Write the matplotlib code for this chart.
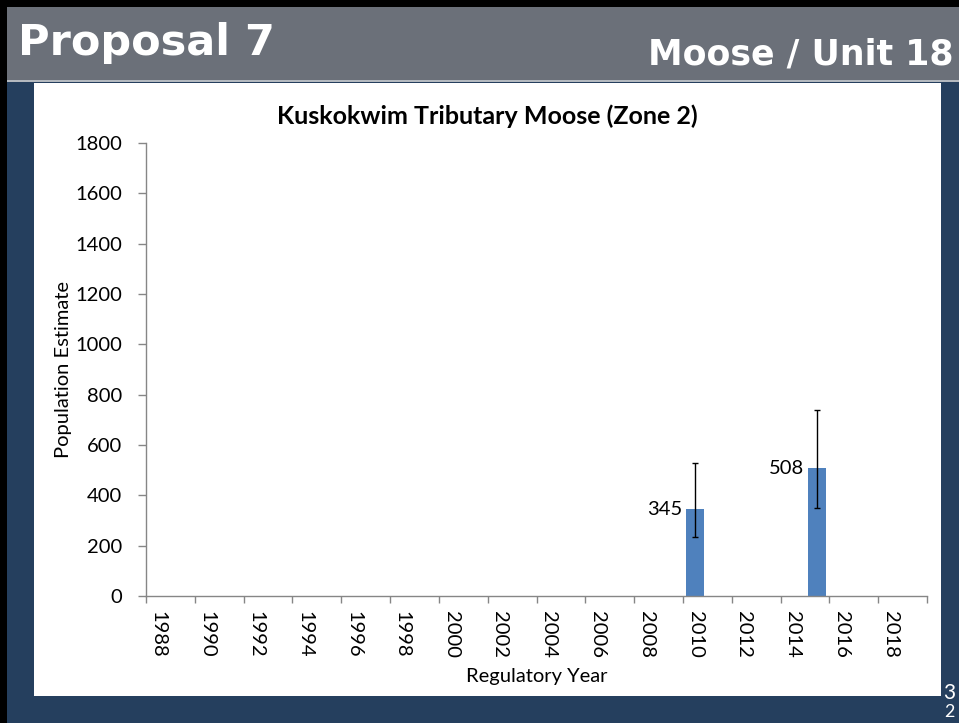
import matplotlib
matplotlib.use("Agg")
import matplotlib.pyplot as plt
from matplotlib.patches import Rectangle

# data
years = [2010, 2015]
estimates = [345, 508]
ci_low = [234, 351]
ci_high = [530, 739]
tick_years = list(range(1988, 2020, 2))

navy = "#253f5e"
gray = "#6b7079"
bar_col = "#4f81bd"
axis_col = "#868686"

W, H = 959, 723
fig = plt.figure(figsize=(W / 100, H / 100), dpi=100, facecolor=navy)

def px_rect(x0, y0, x1, y1, color):
    # rectangle in pixel coords from top-left
    r = Rectangle((x0 / W, 1 - y1 / H), (x1 - x0) / W, (y1 - y0) / H,
                  transform=fig.transFigure, facecolor=color, edgecolor="none", zorder=-5)
    fig.add_artist(r)

px_rect(0, 0, W, 7, "black")
px_rect(0, 0, 7, H, "black")
px_rect(7, 7, W, 80, gray)
px_rect(7, 80, W, 82, "#b4b9bf")
px_rect(34, 83, 941, 696, "white")

fig.text(18 / W, 1 - 55 / H, "Proposal 7", color="white", fontsize=31,
         fontweight="bold", family="DejaVu Sans", ha="left", va="baseline")
fig.text(953 / W, 1 - 65 / H, "Moose / Unit 18", color="white", fontsize=25,
         fontweight="bold", family="DejaVu Sans", ha="right", va="baseline")
fig.text(949 / W, 1 - 693 / H, "3", color="white", fontsize=15, family="Lato",
         ha="center", va="center")
fig.text(949 / W, 1 - 712 / H, "2", color="white", fontsize=13, family="Lato",
         ha="center", va="center")

ax = fig.add_axes([146 / W, 1 - 596 / H, (927 - 146) / W, (596 - 143) / H])
ax.set_facecolor("none")

xs = [y + 0.5 for y in years]
yerr = [[e - lo for e, lo in zip(estimates, ci_low)],
        [hi - e for e, hi in zip(estimates, ci_high)]]
ax.bar(xs, estimates, width=0.74, color=bar_col, zorder=2)
ax.errorbar(xs, estimates, yerr=yerr, fmt="none", ecolor="black",
            elinewidth=1, capsize=2.5, capthick=1, zorder=3)
for x, v in zip(xs, estimates):
    ax.annotate(str(v), (x - 0.37, v), xytext=(-3, 0), textcoords="offset points",
                ha="right", va="center", fontsize=14.5, family="Lato")

ax.set_xlim(1988, 2020)
ax.set_ylim(0, 1800)
ax.set_yticks(range(0, 1801, 200))
ax.set_xticks(tick_years + [2020])
ax.set_xticklabels([])
ax.set_xticks([y + 0.5 for y in tick_years], minor=True)
ax.set_xticklabels([str(y) for y in tick_years], minor=True, rotation=-90,
                   fontsize=14.5, family="Lato")
for lab in ax.get_yticklabels():
    lab.set_family("Lato")
    lab.set_fontsize(14.5)

ax.tick_params(axis="y", direction="out", length=6, width=1, color=axis_col, pad=11)
ax.tick_params(axis="x", which="major", direction="out", length=5, width=1, color=axis_col)
ax.tick_params(axis="x", which="minor", length=0, pad=11)

for s in ["top", "right"]:
    ax.spines[s].set_visible(False)
for s in ["left", "bottom"]:
    ax.spines[s].set_color(axis_col)
    ax.spines[s].set_linewidth(1)

ax.set_xlabel("Regulatory Year", fontsize=14.5, family="Lato", labelpad=7)
fig.text(63 / W, 1 - 370 / H, "Population Estimate", rotation=90, fontsize=14.5,
         family="Lato", ha="center", va="center")
fig.text(487 / W, 1 - 116 / H, "Kuskokwim Tributary Moose (Zone 2)", fontsize=18,
         fontweight="bold", family="Lato", ha="center", va="center")

fig.savefig("out.png", dpi=100, facecolor=navy)
